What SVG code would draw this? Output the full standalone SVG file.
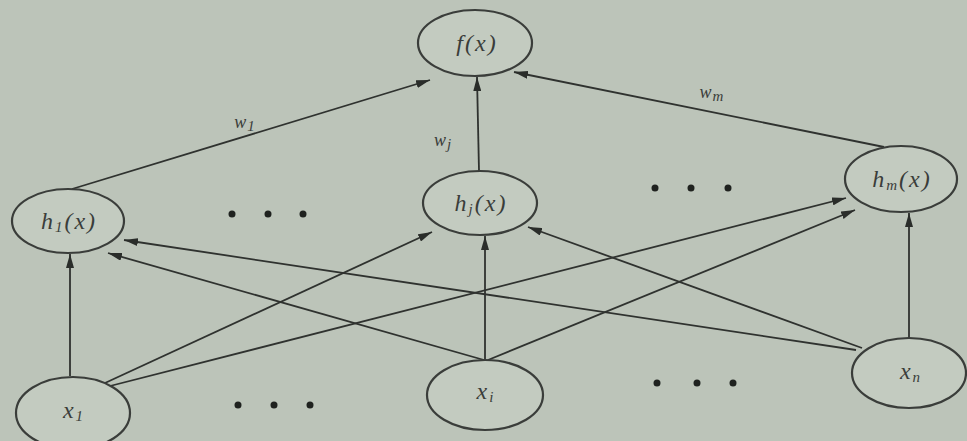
<svg xmlns="http://www.w3.org/2000/svg" width="967" height="441" viewBox="0 0 967 441">
<defs>
<marker id="ah" viewBox="0 0 14 8" refX="14" refY="4" markerWidth="14" markerHeight="8" markerUnits="userSpaceOnUse" orient="auto">
<path d="M0,0 L14,4 L0,8 z" fill="#2a2d2a"/>
</marker>
<style>
.node ellipse{fill:#c3cbc0;stroke:#3a3d3a;stroke-width:2.2}
.lbl{font-family:"Liberation Serif",serif;font-style:italic;font-size:24px;letter-spacing:2px;fill:#3a3d3a;text-anchor:middle}
.sub{font-size:15px}
.w{font-size:18px;letter-spacing:1px}
.edge{stroke:#2f322f;stroke-width:1.8;fill:none;marker-end:url(#ah)}
.dot{fill:#1f221f}
</style>
</defs>
<rect width="967" height="441" fill="#bcc4b9"/>
<g id="connectors">
<line class="edge" x1="72" y1="189" x2="430" y2="80"/>
<line class="edge" x1="479" y1="171" x2="477" y2="77"/>
<line class="edge" x1="884" y1="147" x2="514" y2="72"/>
<line class="edge" x1="70" y1="376" x2="70" y2="254"/>
<line class="edge" x1="105" y1="383" x2="432" y2="232"/>
<line class="edge" x1="110" y1="386" x2="846" y2="198"/>
<line class="edge" x1="484" y1="360" x2="108" y2="253"/>
<line class="edge" x1="485" y1="360" x2="485" y2="236"/>
<line class="edge" x1="488" y1="360" x2="855" y2="210"/>
<line class="edge" x1="856" y1="350" x2="124" y2="240"/>
<line class="edge" x1="862" y1="348" x2="528" y2="227"/>
<line class="edge" x1="909" y1="338" x2="909" y2="213"/>
<text class="lbl w" x="245" y="128">w<tspan class="sub" dy="3">1</tspan></text>
<text class="lbl w" x="443" y="146">w<tspan class="sub" dy="3">j</tspan></text>
<text class="lbl w" x="712" y="98">w<tspan class="sub" dy="3">m</tspan></text>
</g>
<g id="f" class="node"><ellipse cx="475" cy="43" rx="57" ry="33"/><text class="lbl" x="477" y="51">f(x)</text></g>
<g id="h1" class="node"><ellipse cx="68" cy="221" rx="56" ry="32"/><text class="lbl" x="69" y="229">h<tspan class="sub" dy="3">1</tspan><tspan dy="-3">(x)</tspan></text></g>
<g id="hj" class="node"><ellipse cx="480" cy="203" rx="57" ry="32"/><text class="lbl" x="481" y="211">h<tspan class="sub" dy="3">j</tspan><tspan dy="-3">(x)</tspan></text></g>
<g id="hm" class="node"><ellipse cx="901" cy="179" rx="56" ry="33"/><text class="lbl" x="902" y="187">h<tspan class="sub" dy="3">m</tspan><tspan dy="-3">(x)</tspan></text></g>
<g id="x1" class="node"><ellipse cx="73" cy="413" rx="57" ry="36"/><text class="lbl" x="74" y="418">x<tspan class="sub" dy="3">1</tspan></text></g>
<g id="xi" class="node"><ellipse cx="485" cy="395" rx="58" ry="35"/><text class="lbl" x="486" y="399">x<tspan class="sub" dy="3">i</tspan></text></g>
<g id="xn" class="node"><ellipse cx="909" cy="373" rx="57" ry="35"/><text class="lbl" x="911" y="379">x<tspan class="sub" dy="3">n</tspan></text></g>
<g id="dots">
<circle class="dot" cx="232" cy="214" r="3.5"/><circle class="dot" cx="268" cy="214" r="3.5"/><circle class="dot" cx="303" cy="214" r="3.5"/>
<circle class="dot" cx="655" cy="188" r="3.5"/><circle class="dot" cx="691" cy="188" r="3.5"/><circle class="dot" cx="728" cy="188" r="3.5"/>
<circle class="dot" cx="238" cy="405" r="3.5"/><circle class="dot" cx="274" cy="405" r="3.5"/><circle class="dot" cx="310" cy="405" r="3.5"/>
<circle class="dot" cx="657" cy="383" r="3.5"/><circle class="dot" cx="697" cy="383" r="3.5"/><circle class="dot" cx="733" cy="383" r="3.5"/>
</g>
</svg>
